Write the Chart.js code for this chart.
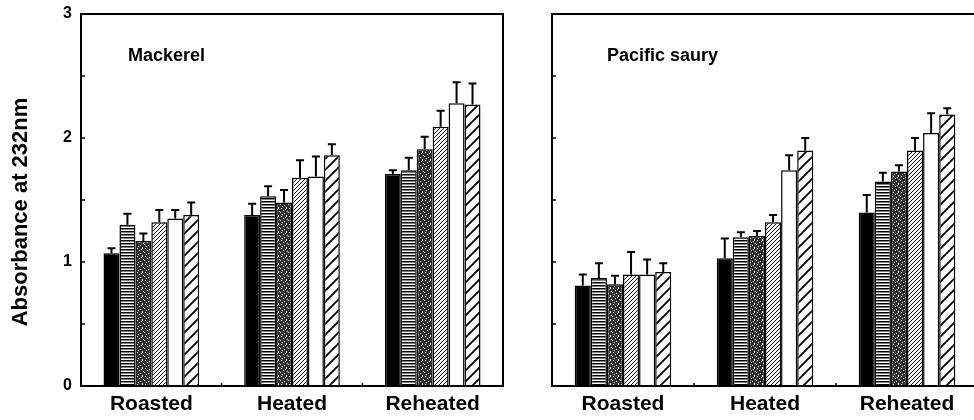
<!DOCTYPE html>
<html>
<head>
<meta charset="utf-8">
<script src="https://cdn.jsdelivr.net/npm/chart.js@4.4.1/dist/chart.umd.min.js"></script>
<style>
  html, body { margin: 0; padding: 0; background: #fff; overflow: hidden; width: 974px; height: 420px; }
  #left { position: absolute; left: 0; top: 0; }
  #right { position: absolute; left: 540px; top: 0; }
</style>
</head>
<body>
<canvas id="left" width="520" height="420"></canvas>
<canvas id="right" width="440" height="420"></canvas>
<script>
// Data
const categories = ["Roasted", "Heated", "Reheated"];
const yTickLabels = ["0", "1", "2", "3"];

// Mackerel: six samples per treatment (mean, upper error)
const mackerelS1 = [1.07, 1.38, 1.71];
const mackerelS2 = [1.30, 1.53, 1.74];
const mackerelS3 = [1.17, 1.48, 1.91];
const mackerelS4 = [1.32, 1.68, 2.09];
const mackerelS5 = [1.35, 1.69, 2.28];
const mackerelS6 = [1.38, 1.86, 2.27];
const mackerelE1 = [0.04, 0.09, 0.03];
const mackerelE2 = [0.09, 0.08, 0.10];
const mackerelE3 = [0.06, 0.10, 0.10];
const mackerelE4 = [0.10, 0.14, 0.13];
const mackerelE5 = [0.07, 0.16, 0.17];
const mackerelE6 = [0.10, 0.09, 0.17];

// Pacific saury
const sauryS1 = [0.81, 1.03, 1.40];
const sauryS2 = [0.87, 1.20, 1.65];
const sauryS3 = [0.82, 1.21, 1.73];
const sauryS4 = [0.90, 1.32, 1.90];
const sauryS5 = [0.90, 1.74, 2.04];
const sauryS6 = [0.92, 1.90, 2.19];
const sauryE1 = [0.09, 0.16, 0.14];
const sauryE2 = [0.12, 0.04, 0.07];
const sauryE3 = [0.07, 0.04, 0.05];
const sauryE4 = [0.18, 0.06, 0.10];
const sauryE5 = [0.12, 0.12, 0.16];
const sauryE6 = [0.07, 0.10, 0.05];

const FONT = '"Liberation Sans", Arial, Helvetica, sans-serif';

// ---- fill patterns ----
function makePattern(w, h, draw) {
    const c = document.createElement("canvas");
    c.width = w; c.height = h;
    const g = c.getContext("2d");
    g.fillStyle = "#fff";
    g.fillRect(0, 0, w, h);
    draw(g, w, h);
    return g.createPattern(c, "repeat");
}

const fillSolid = "#000";
const fillHoriz = makePattern(4, 3, (g, w) => {
    g.fillStyle = "#000";
    g.fillRect(0, 0, w, 1.5);
});
const fillStipple = makePattern(8, 8, (g, w, h) => {
    g.fillStyle = "#2e2e2e";
    g.fillRect(0, 0, w, h);
    g.fillStyle = "#fff";
    [[1, 0], [5, 1], [3, 2], [7, 3], [0, 4], [4, 5], [2, 6], [6, 7], [6, 0]]
        .forEach(p => g.fillRect(p[0], p[1], 1, 1));
});
const fillFine = makePattern(4, 4, (g, w, h) => {
    g.strokeStyle = "#000";
    g.lineWidth = 1;
    g.beginPath();
    g.moveTo(-1, h + 1); g.lineTo(w + 1, -1);
    g.moveTo(-1, 1); g.lineTo(1, -1);
    g.moveTo(w - 1, h + 1); g.lineTo(w + 1, h - 1);
    g.stroke();
});
const fillWide = makePattern(11, 11, (g, w, h) => {
    g.strokeStyle = "#000";
    g.lineWidth = 1.8;
    g.beginPath();
    g.moveTo(-2, h + 2); g.lineTo(w + 2, -2);
    g.moveTo(-2, 2); g.lineTo(2, -2);
    g.moveTo(w - 2, h + 2); g.lineTo(w + 2, h - 2);
    g.stroke();
});
const fillWhite = "#fff";
const fills = [fillSolid, fillHoriz, fillStipple, fillFine, fillWhite, fillWide];

// ---- decorations: error bars, frame, inward ticks, texts ----
const panelDecor = {
    id: "panelDecor",
    afterDatasetsDraw(chart) {
        const ctx = chart.ctx;
        const yScale = chart.scales.y;
        ctx.save();
        ctx.strokeStyle = "#000";
        ctx.lineWidth = 2;
        chart.data.datasets.forEach((ds, i) => {
            const meta = chart.getDatasetMeta(i);
            meta.data.forEach((bar, j) => {
                const top = yScale.getPixelForValue(ds.data[j] + ds.errors[j]);
                ctx.beginPath();
                ctx.moveTo(bar.x, bar.y);
                ctx.lineTo(bar.x, top);
                ctx.moveTo(bar.x - 4, top);
                ctx.lineTo(bar.x + 4, top);
                ctx.stroke();
            });
        });
        ctx.restore();
    },
    afterDraw(chart, args, opts) {
        const ctx = chart.ctx;
        const a = chart.chartArea;
        const y = chart.scales.y;
        const x = chart.scales.x;
        ctx.save();
        ctx.strokeStyle = "#000";
        ctx.lineWidth = 2;
        ctx.strokeRect(a.left, a.top, a.right - a.left, a.bottom - a.top);

        // inward ticks on the left axis
        ctx.lineWidth = 1.5;
        ctx.beginPath();
        for (let v = 0; v <= 3; v += 0.5) {
            const py = y.getPixelForValue(v);
            ctx.moveTo(a.left, py);
            ctx.lineTo(a.left + 4, py);
        }
        // small upward ticks between categories
        for (let k = 0; k < categories.length - 1; k++) {
            const px = (x.getPixelForValue(k) + x.getPixelForValue(k + 1)) / 2;
            ctx.moveTo(px, a.bottom);
            ctx.lineTo(px, a.bottom - 3);
        }
        ctx.stroke();

        // panel label
        ctx.fillStyle = "#000";
        ctx.font = "bold 18px " + FONT;
        ctx.textBaseline = "middle";
        ctx.textAlign = "left";
        ctx.fillText(opts.label, a.left + opts.labelDx, a.top + 42);

        // y axis title
        if (opts.yTitle) {
            ctx.font = "bold 22px " + FONT;
            ctx.textAlign = "center";
            ctx.translate(21, 212);
            ctx.rotate(-Math.PI / 2);
            ctx.fillText(opts.yTitle, 0, 0);
        }
        ctx.restore();
    }
};

function makePanel(id, label, series, errors, cfg) {
    const datasets = series.map((s, i) => ({
        data: s,
        errors: errors[i],
        backgroundColor: fills[i],
        borderColor: "#000",
        borderWidth: 1.5,
        categoryPercentage: 0.68,
        barPercentage: 1.0
    }));
    return new Chart(document.getElementById(id), {
        type: "bar",
        data: { labels: categories, datasets: datasets },
        plugins: [panelDecor],
        options: {
            responsive: false,
            animation: false,
            layout: { padding: cfg.padding },
            plugins: {
                legend: { display: false },
                tooltip: { enabled: false },
                panelDecor: { label: label, labelDx: cfg.labelDx, yTitle: cfg.yTitle }
            },
            scales: {
                x: {
                    grid: { display: false, drawTicks: false },
                    border: { display: false },
                    ticks: {
                        color: "#000",
                        padding: 6,
                        maxRotation: 0,
                        font: { family: FONT, size: 21, weight: "bold" }
                    },
                    afterFit: s => { s.height = 34; }
                },
                y: {
                    min: 0,
                    max: 3,
                    grid: { display: false, drawTicks: false },
                    border: { display: false },
                    ticks: {
                        display: cfg.showYLabels,
                        stepSize: 1,
                        color: "#000",
                        padding: 9,
                        font: { family: FONT, size: 16, weight: "bold", lineHeight: 1 },
                        callback: v => yTickLabels[v]
                    },
                    afterFit: s => {
                        s.width = cfg.yWidth;
                        s.paddingTop = 0;
                        s.paddingBottom = 0;
                    }
                }
            }
        }
    });
}

makePanel("left", "Mackerel",
    [mackerelS1, mackerelS2, mackerelS3, mackerelS4, mackerelS5, mackerelS6],
    [mackerelE1, mackerelE2, mackerelE3, mackerelE4, mackerelE5, mackerelE6],
    { padding: { left: 0, right: 17, top: 14, bottom: 0 }, yWidth: 81, showYLabels: true,
      labelDx: 47, yTitle: "Absorbance at 232nm" });

makePanel("right", "Pacific saury",
    [sauryS1, sauryS2, sauryS3, sauryS4, sauryS5, sauryS6],
    [sauryE1, sauryE2, sauryE3, sauryE4, sauryE5, sauryE6],
    { padding: { left: 12, right: 2, top: 14, bottom: 0 }, yWidth: 0, showYLabels: false,
      labelDx: 55, yTitle: null });
</script>
</body>
</html>
